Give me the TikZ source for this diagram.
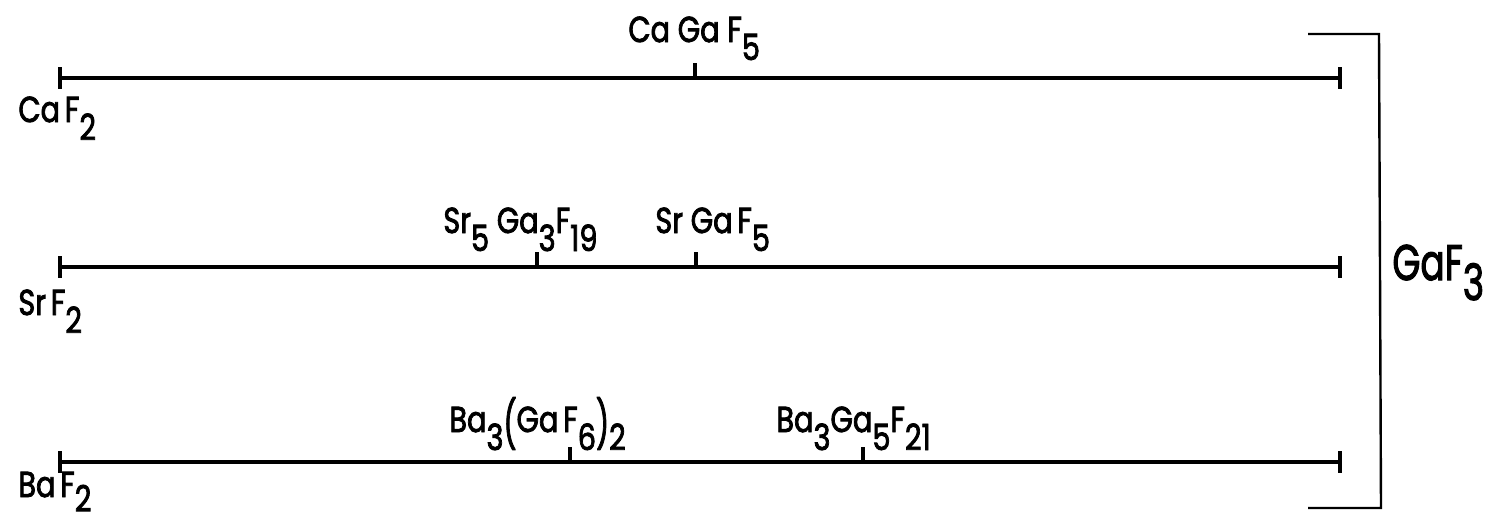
\documentclass[tikz,border=0pt]{standalone}
\usepackage{fontspec}
\setmainfont{Poppins}
\newfontfamily\lett{Poppins}[FakeBold=2.5]
\newcommand{\dn}[1]{\raisebox{-0.5em}{#1}}
\newcommand{\cf}[1]{\scalebox{0.8}[1]{\lett #1}}
\begin{document}
\begin{tikzpicture}[x=0.5pt,y=-0.5pt,
  axisline/.style={line width=1.7pt},
  tickline/.style={line width=1.7pt},
  brack/.style={line width=1.2pt},
  lbl/.style={anchor=base west,inner sep=0pt,font=\fontsize{18}{20}\selectfont},
  big/.style={anchor=base west,inner sep=0pt,font=\fontsize{25}{28}\selectfont}]
\useasboundingbox (0,0) rectangle (1501,514);
% line ends
\coordinate (a0) at (60,78);  \coordinate (a1) at (1340,78);
\coordinate (b0) at (60,267); \coordinate (b1) at (1340,267);
\coordinate (c0) at (60,462); \coordinate (c1) at (1340,462);
% compound positions
\coordinate (aM) at (695,78);
\coordinate (bM1) at (537,267); \coordinate (bM2) at (696,267);
\coordinate (cM1) at (570,462); \coordinate (cM2) at (863,462);
% lines
\foreach \r in {a,b,c}{
  \draw[axisline] (\r0) -- (\r1);
  \draw[tickline] ([yshift=11*0.5pt]\r0) -- ([yshift=-11*0.5pt]\r0);
  \draw[tickline] ([yshift=11*0.5pt]\r1) -- ([yshift=-11*0.5pt]\r1);
}
\foreach \p in {aM,bM1,bM2,cM1,cM2}{
  \draw[tickline] (\p) -- ([yshift=15*0.5pt]\p);
}
% bracket
\coordinate (t0) at (1308,34); \coordinate (t1) at (1379,34);
\coordinate (u0) at (1308,508); \coordinate (u1) at (1381,508);
\draw[brack] (t0) -- (t1) -- (u1) -- (u0);
% labels
\node[lbl] (lCaF) at (18,122) {\cf{Ca\,F\dn{2}}};
\node[lbl] (lSrF) at (18,315) {\cf{Sr\,F\dn{2}}};
\node[lbl] (lBaF) at (18,497) {\cf{Ba\,F\raisebox{-0.4em}{2}}};
\node[lbl] (lCaGa) at (628,42) {\cf{Ca Ga F\dn{5}}};
\node[lbl] (lSr5) at (443,233) {\cf{Sr\dn{5} Ga\dn{3}F\dn{19}}};
\node[lbl] (lSrGa) at (655,233) {\cf{Sr Ga\,F\dn{5}}};
\node[lbl] (lBa3) at (449,432) {\cf{Ba\dn{3}\raisebox{-0.25em}{\scalebox{1}[1.3]{(}}Ga\,F\dn{6}\raisebox{-0.25em}{\scalebox{1}[1.3]{)}}\dn{2}}};
\node[lbl] (lBa3Ga) at (776,432) {\cf{Ba\dn{3}Ga\dn{5}F\dn{21}}};
\node[big] (lGaF) at (1392,280) {\scalebox{0.72}[1]{\lett GaF\raisebox{-0.4em}{3}}};
\end{tikzpicture}
\end{document}
